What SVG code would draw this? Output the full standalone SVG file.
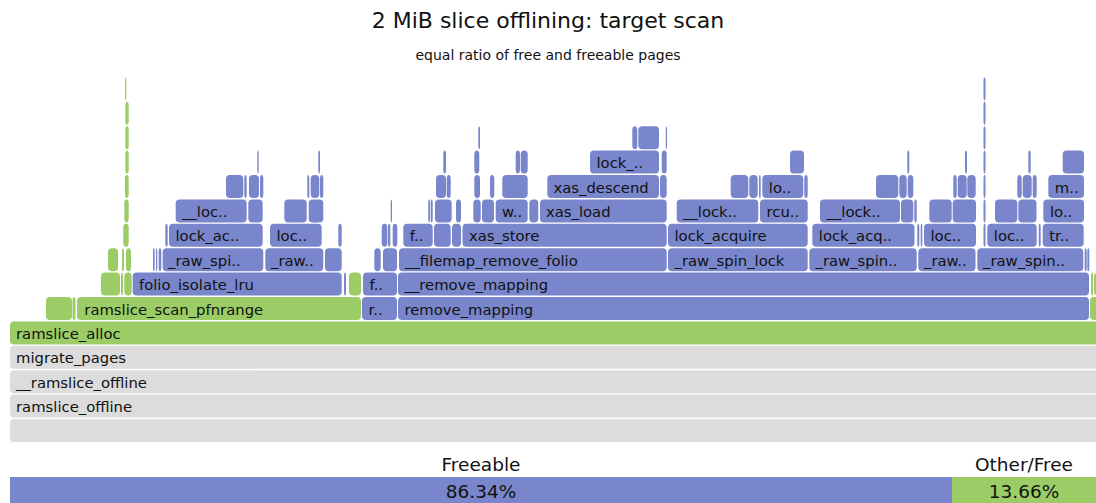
<svg xmlns="http://www.w3.org/2000/svg" width="1096" height="503" viewBox="0 0 1096 503">
<style>
rect{rx:4px;ry:4px}
.b{fill:#7986cb}.g{fill:#9ccc65}.y{fill:#dcdcdc}
.bar{rx:0;ry:0}
text{font-family:"DejaVu Sans",sans-serif;fill:#111}
.t{font-size:14.8px}
.h1{font-size:22px;text-anchor:middle}
.h2{font-size:14px;text-anchor:middle}
.lg{font-size:18.5px;text-anchor:middle}
</style>
<rect width="1096" height="503" fill="#fff" class="bar"/>
<g id="title"><text class="h1" x="548" y="28">2 MiB slice offlining: target scan</text></g>
<g id="subtitle"><text class="h2" x="548" y="60">equal ratio of free and freeable pages</text></g>
<g id="connectors"/>

<g id="k0"><rect class="y" x="10" y="419" width="1096" height="23"/></g>
<g id="k1"><rect class="y" x="10" y="394.6" width="1096" height="23"/><text class="t" x="16" y="412.1">ramslice_offline</text></g>
<g id="k2"><rect class="y" x="10" y="370.2" width="1096" height="23"/><text class="t" x="16" y="387.7">__ramslice_offline</text></g>
<g id="k3"><rect class="y" x="10" y="345.8" width="1096" height="23"/><text class="t" x="16" y="363.3">migrate_pages</text></g>
<g id="k4"><rect class="g" x="10" y="321.4" width="1096" height="23"/><text class="t" x="16" y="338.9">ramslice_alloc</text></g>

<!-- row 5 y=297 -->
<g id="k5-1"><rect class="g" x="46" y="297" width="26" height="23"/></g>
<g id="k5-2"><rect class="g" x="72.5" y="297" width="3" height="23"/></g>
<g id="k5-3"><rect class="g" x="77" y="297" width="284" height="23"/><text class="t" x="84.3" y="314.5">ramslice_scan_pfnrange</text></g>
<g id="k5-4"><rect class="b" x="362" y="297" width="35" height="23"/><text class="t" x="368.5" y="314.5">r..</text></g>
<g id="k5-5"><rect class="b" x="398" y="297" width="691" height="23"/><text class="t" x="404.5" y="314.5">remove_mapping</text></g>
<g id="k5-6"><rect class="g" x="1090" y="297" width="16" height="23"/></g>

<!-- row 6 y=272.6 -->
<g id="k6-1"><rect class="g" x="101" y="272.6" width="19" height="23"/></g>
<g id="k6-2"><rect class="g" x="121" y="272.6" width="2" height="23"/></g>
<g id="k6-3"><rect class="g" x="124.3" y="272.6" width="7.4" height="23"/></g>
<g id="k6-4"><rect class="b" x="132.7" y="272.6" width="209" height="23"/><text class="t" x="139" y="290.1">folio_isolate_lru</text></g>
<g id="k6-5"><rect class="b" x="344" y="272.6" width="2" height="23"/></g>
<g id="k6-6"><rect class="g" x="349" y="272.6" width="12" height="23"/></g>
<g id="k6-7"><rect class="b" x="363" y="272.6" width="34" height="23"/><text class="t" x="369.5" y="290.1">f..</text></g>
<g id="k6-8"><rect class="b" x="398" y="272.6" width="691" height="23"/><text class="t" x="404.5" y="290.1">__remove_mapping</text></g>
<g id="k6-9"><rect class="g" x="1091" y="272.6" width="2" height="23"/></g>
<g id="k6-10"><rect class="g" x="1094" y="272.6" width="12" height="23"/></g>

<!-- row 7 y=248.2 -->
<g id="k7-1"><rect class="g" x="108" y="248.2" width="10" height="23"/></g>
<g id="k7-2"><rect class="g" x="122" y="248.2" width="2" height="23"/></g>
<g id="k7-3"><rect class="g" x="126" y="248.2" width="5" height="23"/></g>
<g id="k7-4"><rect class="b" x="153" y="248.2" width="1.7" height="23"/></g>
<g id="k7-5"><rect class="b" x="156" y="248.2" width="1.3" height="23"/></g>
<g id="k7-6"><rect class="b" x="158.7" y="248.2" width="2.6" height="23"/></g>
<g id="k7-7"><rect class="b" x="162.7" y="248.2" width="100.6" height="23"/><text class="t" x="168" y="265.7">_raw_spi..</text></g>
<g id="k7-8"><rect class="b" x="265.3" y="248.2" width="58" height="23"/><text class="t" x="271" y="265.7">_raw..</text></g>
<g id="k7-9"><rect class="b" x="325" y="248.2" width="16.7" height="23"/></g>
<g id="k7-10"><rect class="b" x="374.3" y="248.2" width="6.4" height="23"/></g>
<g id="k7-11"><rect class="b" x="383" y="248.2" width="14" height="23"/></g>
<g id="k7-12"><rect class="b" x="399" y="248.2" width="267.7" height="23"/><text class="t" x="405" y="265.7">__filemap_remove_folio</text></g>
<g id="k7-13"><rect class="b" x="668" y="248.2" width="139.7" height="23"/><text class="t" x="674.5" y="265.7">_raw_spin_lock</text></g>
<g id="k7-14"><rect class="b" x="809.3" y="248.2" width="107.4" height="23"/><text class="t" x="815.5" y="265.7">_raw_spin..</text></g>
<g id="k7-15"><rect class="b" x="918.3" y="248.2" width="57.2" height="23"/><text class="t" x="924" y="265.7">_raw..</text></g>
<g id="k7-16"><rect class="b" x="977.3" y="248.2" width="106" height="23"/><text class="t" x="983" y="265.7">_raw_spin..</text></g>
<g id="k7-17"><rect class="b" x="1084.7" y="248.2" width="2" height="23"/></g>
<g id="k7-18"><rect class="b" x="1087.3" y="248.2" width="2" height="23"/></g>

<!-- row 8 y=223.8 -->
<g id="k8-1"><rect class="g" x="123.3" y="223.8" width="5.4" height="23"/></g>
<g id="k8-2"><rect class="b" x="165.3" y="223.8" width="2.4" height="23"/></g>
<g id="k8-3"><rect class="b" x="169" y="223.8" width="93.7" height="23"/><text class="t" x="175.5" y="241.3">lock_ac..</text></g>
<g id="k8-4"><rect class="b" x="270" y="223.8" width="51.7" height="23"/><text class="t" x="276.5" y="241.3">loc..</text></g>
<g id="k8-5"><rect class="b" x="338.3" y="223.8" width="3.4" height="23"/></g>
<g id="k8-6"><rect class="b" x="381.7" y="223.8" width="5.6" height="23"/></g>
<g id="k8-7"><rect class="b" x="388" y="223.8" width="2.3" height="23"/></g>
<g id="k8-8"><rect class="b" x="392.7" y="223.8" width="4.6" height="23"/></g>
<g id="k8-9"><rect class="b" x="403.3" y="223.8" width="29.4" height="23"/><text class="t" x="409.8" y="241.3">f..</text></g>
<g id="k8-10"><rect class="b" x="434" y="223.8" width="16.7" height="23"/></g>
<g id="k8-11"><rect class="b" x="452" y="223.8" width="9" height="23"/></g>
<g id="k8-12"><rect class="b" x="462.5" y="223.8" width="204.2" height="23"/><text class="t" x="469" y="241.3">xas_store</text></g>
<g id="k8-13"><rect class="b" x="668" y="223.8" width="139.7" height="23"/><text class="t" x="674.5" y="241.3">lock_acquire</text></g>
<g id="k8-14"><rect class="b" x="812.3" y="223.8" width="102.2" height="23"/><text class="t" x="818.8" y="241.3">lock_acq..</text></g>
<g id="k8-15"><rect class="b" x="917.3" y="223.8" width="2" height="23"/></g>
<g id="k8-16"><rect class="b" x="920.7" y="223.8" width="1.6" height="23"/></g>
<g id="k8-17"><rect class="b" x="924" y="223.8" width="52" height="23"/><text class="t" x="930.5" y="241.3">loc..</text></g>
<g id="k8-18"><rect class="b" x="983.5" y="223.8" width="2" height="23"/></g>
<g id="k8-19"><rect class="b" x="987.3" y="223.8" width="49.4" height="23"/><text class="t" x="993.8" y="241.3">loc..</text></g>
<g id="k8-20"><rect class="b" x="1038.7" y="223.8" width="2" height="23"/></g>
<g id="k8-21"><rect class="b" x="1042.7" y="223.8" width="41" height="23"/><text class="t" x="1049.2" y="241.3">tr..</text></g>

<!-- row 9 y=199.4 -->
<g id="k9-1"><rect class="g" x="124.3" y="199.4" width="4.4" height="23"/></g>
<g id="k9-2"><rect class="b" x="175.7" y="199.4" width="71" height="23"/><text class="t" x="182" y="216.9">__loc..</text></g>
<g id="k9-3"><rect class="b" x="248.3" y="199.4" width="14.4" height="23"/></g>
<g id="k9-4"><rect class="b" x="284.3" y="199.4" width="22.4" height="23"/></g>
<g id="k9-5"><rect class="b" x="308.7" y="199.4" width="14.6" height="23"/></g>
<g id="k9-6"><rect class="b" x="390.7" y="199.4" width="1.3" height="23"/></g>
<g id="k9-7"><rect class="b" x="428.3" y="199.4" width="1.7" height="23"/></g>
<g id="k9-8"><rect class="b" x="430.7" y="199.4" width="2" height="23"/></g>
<g id="k9-9"><rect class="b" x="435" y="199.4" width="16.7" height="23"/></g>
<g id="k9-10"><rect class="b" x="456" y="199.4" width="5" height="23"/></g>
<g id="k9-11"><rect class="b" x="473.3" y="199.4" width="7.4" height="23"/></g>
<g id="k9-12"><rect class="b" x="482" y="199.4" width="12" height="23"/></g>
<g id="k9-13"><rect class="b" x="495.7" y="199.4" width="32" height="23"/><text class="t" x="502" y="216.9">w..</text></g>
<g id="k9-14"><rect class="b" x="529.3" y="199.4" width="9" height="23"/></g>
<g id="k9-15"><rect class="b" x="540" y="199.4" width="126.7" height="23"/><text class="t" x="546" y="216.9">xas_load</text></g>
<g id="k9-16"><rect class="b" x="676.7" y="199.4" width="81.6" height="23"/><text class="t" x="683" y="216.9">__lock..</text></g>
<g id="k9-17"><rect class="b" x="760" y="199.4" width="47.7" height="23"/><text class="t" x="766.5" y="216.9">rcu..</text></g>
<g id="k9-18"><rect class="b" x="820" y="199.4" width="80" height="23"/><text class="t" x="826.5" y="216.9">__lock..</text></g>
<g id="k9-19"><rect class="b" x="901" y="199.4" width="12.3" height="23"/></g>
<g id="k9-20"><rect class="b" x="914.3" y="199.4" width="2.4" height="23"/></g>
<g id="k9-21"><rect class="b" x="929.3" y="199.4" width="22.4" height="23"/></g>
<g id="k9-22"><rect class="b" x="952.7" y="199.4" width="23.3" height="23"/></g>
<g id="k9-23"><rect class="b" x="983.5" y="199.4" width="2" height="23"/></g>
<g id="k9-24"><rect class="b" x="995" y="199.4" width="22.3" height="23"/></g>
<g id="k9-25"><rect class="b" x="1018.3" y="199.4" width="18.2" height="23"/></g>
<g id="k9-26"><rect class="b" x="1043.3" y="199.4" width="40.7" height="23"/><text class="t" x="1050" y="216.9">lo..</text></g>

<!-- row 10 y=175 -->
<g id="k10-1"><rect class="g" x="125" y="175" width="3.7" height="23"/></g>
<g id="k10-2"><rect class="b" x="226" y="175" width="17.3" height="23"/></g>
<g id="k10-3"><rect class="b" x="244.3" y="175" width="2.4" height="23"/></g>
<g id="k10-4"><rect class="b" x="249" y="175" width="10" height="23"/></g>
<g id="k10-5"><rect class="b" x="260" y="175" width="3.3" height="23"/></g>
<g id="k10-6"><rect class="b" x="307.3" y="175" width="2" height="23"/></g>
<g id="k10-7"><rect class="b" x="310.7" y="175" width="8.6" height="23"/></g>
<g id="k10-8"><rect class="b" x="320" y="175" width="3.3" height="23"/></g>
<g id="k10-9"><rect class="b" x="436" y="175" width="10" height="23"/></g>
<g id="k10-10"><rect class="b" x="446.7" y="175" width="4" height="23"/></g>
<g id="k10-11"><rect class="b" x="474.3" y="175" width="5.7" height="23"/></g>
<g id="k10-12"><rect class="b" x="490" y="175" width="4.3" height="23"/></g>
<g id="k10-13"><rect class="b" x="502.3" y="175" width="25.4" height="23"/></g>
<g id="k10-14"><rect class="b" x="547.3" y="175" width="111.7" height="23"/><text class="t" x="553.5" y="192.5">xas_descend</text></g>
<g id="k10-15"><rect class="b" x="660" y="175" width="6.7" height="23"/></g>
<g id="k10-16"><rect class="b" x="730.7" y="175" width="17.6" height="23"/></g>
<g id="k10-17"><rect class="b" x="749.3" y="175" width="8.4" height="23"/></g>
<g id="k10-18"><rect class="b" x="759" y="175" width="1.7" height="23"/></g>
<g id="k10-19"><rect class="b" x="762.3" y="175" width="41" height="23"/><text class="t" x="768.8" y="192.5">lo..</text></g>
<g id="k10-20"><rect class="b" x="804.3" y="175" width="3.4" height="23"/></g>
<g id="k10-21"><rect class="b" x="876" y="175" width="22.3" height="23"/></g>
<g id="k10-22"><rect class="b" x="899.3" y="175" width="7.4" height="23"/></g>
<g id="k10-23"><rect class="b" x="907.7" y="175" width="5.6" height="23"/></g>
<g id="k10-24"><rect class="b" x="953.3" y="175" width="3.4" height="23"/></g>
<g id="k10-25"><rect class="b" x="957.7" y="175" width="9" height="23"/></g>
<g id="k10-26"><rect class="b" x="967.3" y="175" width="8.4" height="23"/></g>
<g id="k10-27"><rect class="b" x="983.5" y="175" width="2" height="23"/></g>
<g id="k10-28"><rect class="b" x="1017.3" y="175" width="4.4" height="23"/></g>
<g id="k10-29"><rect class="b" x="1022.7" y="175" width="9" height="23"/></g>
<g id="k10-30"><rect class="b" x="1032.7" y="175" width="4" height="23"/></g>
<g id="k10-31"><rect class="b" x="1048.3" y="175" width="35.7" height="23"/><text class="t" x="1054.8" y="192.5">m..</text></g>

<!-- row 11 y=150.6 -->
<g id="k11-1"><rect class="g" x="125.3" y="150.6" width="3.4" height="23"/></g>
<g id="k11-2"><rect class="b" x="257.3" y="150.6" width="1.4" height="23"/></g>
<g id="k11-3"><rect class="b" x="318.3" y="150.6" width="1.7" height="23"/></g>
<g id="k11-4"><rect class="b" x="443.3" y="150.6" width="2.7" height="23"/></g>
<g id="k11-5"><rect class="b" x="474.3" y="150.6" width="5" height="23"/></g>
<g id="k11-6"><rect class="b" x="515.7" y="150.6" width="4.3" height="23"/></g>
<g id="k11-7"><rect class="b" x="520.7" y="150.6" width="7" height="23"/></g>
<g id="k11-8"><rect class="b" x="590" y="150.6" width="69" height="23"/><text class="t" x="596.5" y="168.1">lock_..</text></g>
<g id="k11-9"><rect class="b" x="661.7" y="150.6" width="5" height="23"/></g>
<g id="k11-10"><rect class="b" x="790" y="150.6" width="14" height="23"/></g>
<g id="k11-11"><rect class="b" x="907.3" y="150.6" width="2" height="23"/></g>
<g id="k11-12"><rect class="b" x="965" y="150.6" width="2" height="23"/></g>
<g id="k11-13"><rect class="b" x="983.5" y="150.6" width="2" height="23"/></g>
<g id="k11-14"><rect class="b" x="1028.3" y="150.6" width="2.4" height="23"/></g>
<g id="k11-15"><rect class="b" x="1062.7" y="150.6" width="21.3" height="23"/></g>

<!-- row 12 y=126.2 -->
<g id="k12-1"><rect class="g" x="125.3" y="126.2" width="3.4" height="23"/></g>
<g id="k12-2"><rect class="b" x="478.3" y="126.2" width="1.7" height="23"/></g>
<g id="k12-3"><rect class="b" x="632.3" y="126.2" width="5" height="23"/></g>
<g id="k12-4"><rect class="b" x="638.3" y="126.2" width="20.7" height="23"/></g>
<g id="k12-5"><rect class="b" x="665.7" y="126.2" width="1.3" height="23"/></g>
<g id="k12-6"><rect class="b" x="983.5" y="126.2" width="2" height="23"/></g>

<!-- rows 13, 14 -->
<g id="k13-1"><rect class="g" x="125.3" y="101.8" width="3.4" height="23"/></g>
<g id="k13-2"><rect class="b" x="983.5" y="101.8" width="2" height="23"/></g>
<g id="k14-1"><rect class="g" x="125" y="77.4" width="1.3" height="23"/></g>
<g id="k14-2"><rect class="b" x="983.5" y="77.4" width="2" height="23"/></g>

<!-- legend bar -->
<g id="freeable"><rect class="b bar" x="10" y="477" width="942" height="26"/><text class="lg" x="481" y="471">Freeable</text><text class="lg" x="481" y="498">86.34%</text></g>
<g id="other-free"><rect class="g bar" x="952" y="477" width="154" height="26"/><text class="lg" x="1024" y="471">Other/Free</text><text class="lg" x="1024" y="498">13.66%</text></g>
</svg>
